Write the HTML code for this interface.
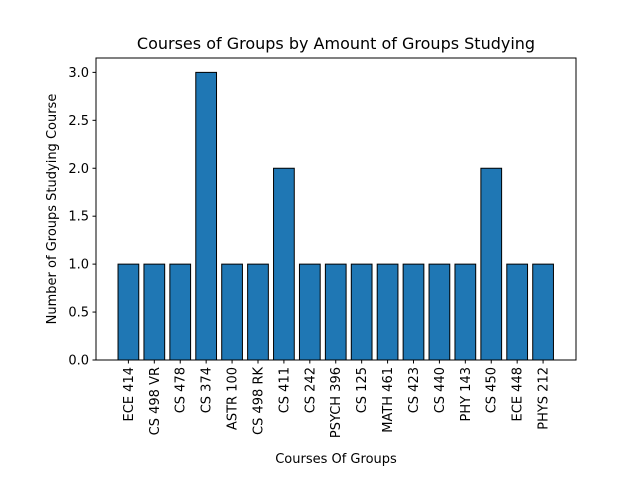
<!DOCTYPE html>
<html><head><meta charset="utf-8"><style>
body{margin:0;background:#fff;}
svg{display:block;font-family:"DejaVu Sans","Liberation Sans",sans-serif;}
</style></head><body>
<svg id="chart" width="640" height="480" xmlns="http://www.w3.org/2000/svg">
<rect x="0" y="0" width="640" height="480" fill="#fff"/>
<text x="336" y="49" font-size="16" text-anchor="middle">Courses of Groups by Amount of Groups Studying</text>
<text x="336" y="463" font-size="13" text-anchor="middle">Courses Of Groups</text>
<text transform="translate(56,209) rotate(-90)" font-size="13" text-anchor="middle">Number of Groups Studying Course</text>
<g id="bars"></g><g id="yt"></g><g id="xt"></g>
<rect x="96" y="58" width="480" height="302" fill="none" stroke="#000" stroke-width="1"/>
</svg>
<script>
const categories=["ECE 414","CS 498 VR","CS 478","CS 374","ASTR 100","CS 498 RK","CS 411","CS 242","PSYCH 396","CS 125","MATH 461","CS 423","CS 440","PHY 143","CS 450","ECE 448","PHYS 212"];
const values=[1,1,1,3,1,1,2,1,1,1,1,1,1,1,2,1,1];
const yTicks=[0,0.5,1,1.5,2,2.5,3];
const yTickLabels=["0.0","0.5","1.0","1.5","2.0","2.5","3.0"];
const NS="http://www.w3.org/2000/svg";
const n=categories.length;
const x0=96,x1=576,y0=360,y1=58;
const xmin=-1.25,xmax=n-1+1.27;
const X=v=>x0+(v-xmin)/(xmax-xmin)*(x1-x0);
const Y=v=>y0-v/3.15*(y0-y1);
function mk(t,a,p){const e=document.createElementNS(NS,t);for(const k in a)e.setAttribute(k,a[k]);p.appendChild(e);return e;}
const bars=document.getElementById('bars'),yt=document.getElementById('yt'),xt=document.getElementById('xt');
const w=X(0.8)-X(0);
values.forEach((v,i)=>{
 const r=mk('rect',{x:X(i)-w/2,y:Y(v),width:w,height:Y(0)-Y(v),fill:'#1f77b4',stroke:'#000','stroke-width':1},bars);
 
 
 const tk=mk('line',{x1:X(i),x2:X(i),y1:360,y2:363.5,stroke:'#000'},xt);
 
 
 const t=mk('text',{transform:`translate(${X(i)+4.5},367) rotate(-90)`,'font-size':13,'text-anchor':'end'},xt);
 t.textContent=categories[i];
 
 
});
yTicks.forEach((v,i)=>{
 const tk=mk('line',{x1:92.5,x2:96,y1:Y(v),y2:Y(v),stroke:'#000'},yt);
 
 
 const t=mk('text',{x:89,y:Y(v)+4.5,'font-size':13,'text-anchor':'end'},yt);
 t.textContent=yTickLabels[i];
 
 
});
</script>
</body></html>
